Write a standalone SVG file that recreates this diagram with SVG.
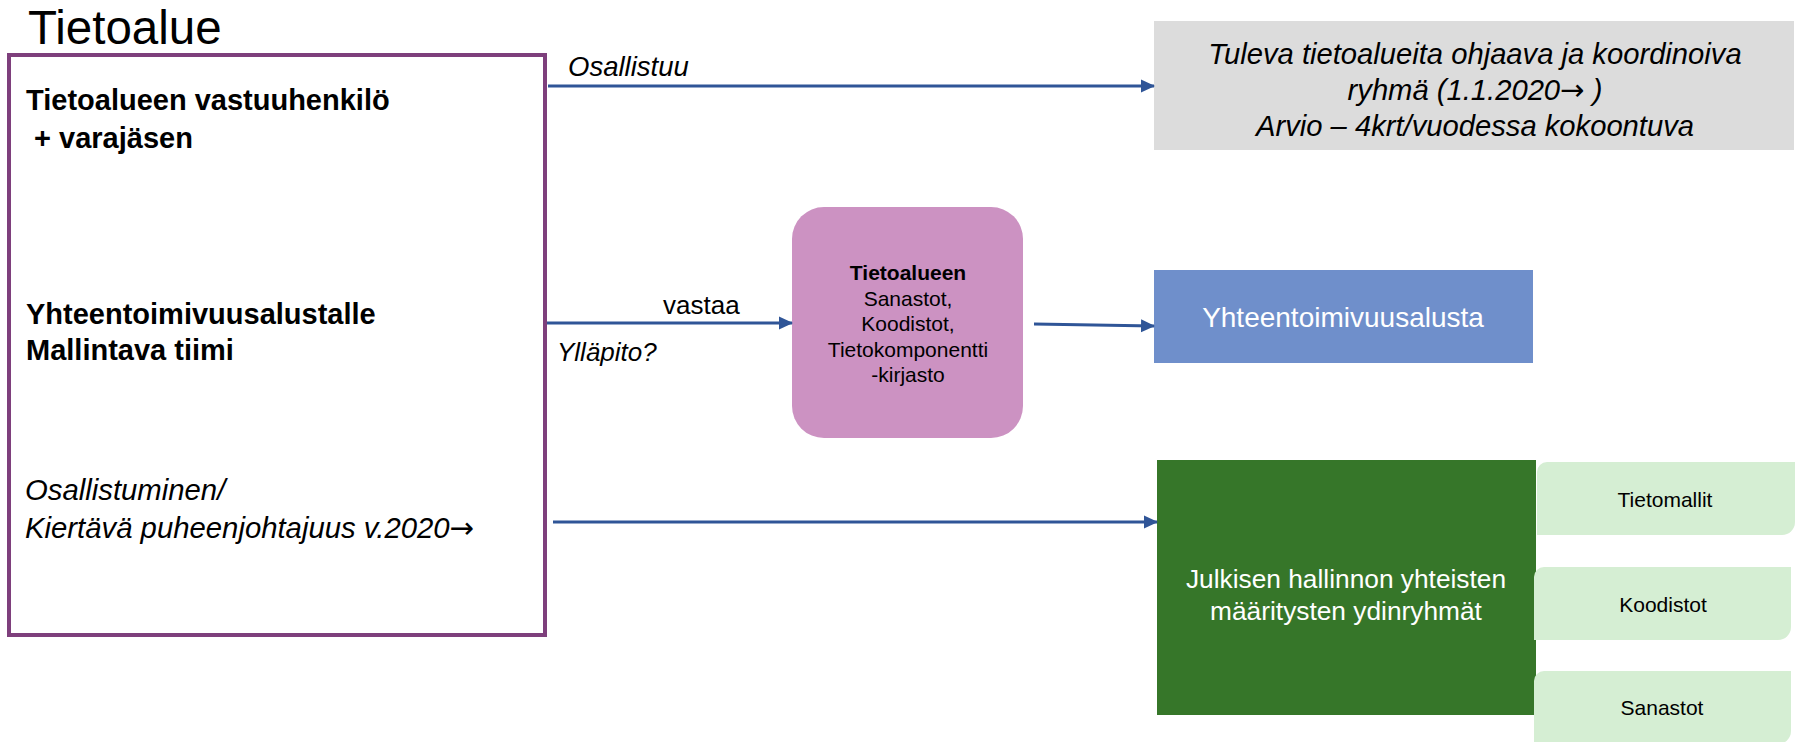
<svg xmlns="http://www.w3.org/2000/svg" width="1800" height="742" viewBox="0 0 1800 742">
<defs>
<style>
text{font-family:"Liberation Sans",Arial,sans-serif;fill:#000}
.b{font-weight:bold;font-size:29px}
.i{font-style:italic;font-size:27.5px}
.k{font-style:italic;font-size:29.3px}
.g{font-style:italic;font-size:29.2px}
.n{font-size:26px}
.c{text-anchor:middle}
.w{fill:#fff}
.s{font-size:21px}
.ar{font-family:"DejaVu Sans",sans-serif;font-style:normal}
.conn{stroke:#2F5597;stroke-width:2.8;fill:none}
.lg{fill:#D5EED3}
</style>
<marker id="ah" markerWidth="14" markerHeight="14" refX="13" refY="7" orient="auto" markerUnits="userSpaceOnUse" viewBox="0 0 14 14">
<path d="M0,0.5 L14,7 L0,13.5 z" fill="#2F5597"/>
</marker>
</defs>
<rect width="1800" height="742" fill="#fff"/>
<g id="title"><text x="28" y="44" style="font-size:47.5px">Tietoalue</text></g>
<g id="tietoalue">
<rect x="9" y="55" width="536" height="580" fill="#fff" stroke="#7E3F7C" stroke-width="4"/>
<text class="b" x="26" y="110">Tietoalueen vastuuhenkilö</text>
<text class="b" x="26" y="148" xml:space="preserve"> + varajäsen</text>
<text class="b" x="26" y="324">Yhteentoimivuusalustalle</text>
<text class="b" x="26" y="360">Mallintava tiimi</text>
<text class="k" x="25" y="500">Osallistuminen/</text>
<text class="k" x="25" y="538">Kiertävä puheenjohtajuus v.2020<tspan class="ar">→</tspan></text>
</g>
<g id="ryhma">
<rect x="1154" y="21" width="640" height="129" fill="#DCDCDC"/>
<text class="g c" x="1475" y="64">Tuleva tietoalueita ohjaava ja koordinoiva</text>
<text class="g c" x="1475" y="100">ryhmä (1.1.2020<tspan class="ar">→</tspan> )</text>
<text class="g c" x="1475" y="136">Arvio – 4krt/vuodessa kokoontuva</text>
</g>
<g id="kirjasto">
<rect x="792" y="207" width="231" height="231" rx="32" fill="#CC92C2"/>
<text class="c s" x="908" y="280" style="font-weight:bold">Tietoalueen</text>
<text class="c s" x="908" y="306">Sanastot,</text>
<text class="c s" x="908" y="331">Koodistot,</text>
<text class="c s" x="908" y="357">Tietokomponentti</text>
<text class="c s" x="908" y="382">-kirjasto</text>
</g>
<g id="alusta">
<rect x="1154" y="270" width="379" height="93" fill="#6F8FCB"/>
<text class="c w" x="1343" y="327" style="font-size:28px">Yhteentoimivuusalusta</text>
</g>
<g id="ydinryhmat">
<rect x="1157" y="460" width="379" height="255" fill="#367629"/>
<text class="c w" x="1346" y="588" style="font-size:26.3px">Julkisen hallinnon yhteisten</text>
<text class="c w" x="1346" y="620" style="font-size:26.3px">määritysten ydinryhmät</text>
</g>
<g id="tietomallit">
<path class="lg" d="M1547,462 H1795 V522 A13,13 0 0 1 1782,535 H1537 V472 A10,10 0 0 1 1547,462 z"/>
<text class="c s" x="1665" y="507">Tietomallit</text>
</g>
<g id="koodistot">
<path class="lg" d="M1544,567 H1791 V627 A13,13 0 0 1 1778,640 H1534 V577 A10,10 0 0 1 1544,567 z"/>
<text class="c s" x="1663" y="612">Koodistot</text>
</g>
<g id="sanastot">
<path class="lg" d="M1544,671 H1791 V731 A13,13 0 0 1 1778,744 H1534 V681 A10,10 0 0 1 1544,671 z"/>
<text class="c s" x="1662" y="715">Sanastot</text>
</g>
<g id="connectors">
<path class="conn" d="M548,86 H1154" marker-end="url(#ah)"/>
<path class="conn" d="M547,323 H792" marker-end="url(#ah)"/>
<path class="conn" d="M1034,324 L1154,326" marker-end="url(#ah)"/>
<path class="conn" d="M553,522 H1157" marker-end="url(#ah)"/>
<text class="i" x="568" y="76">Osallistuu</text>
<text class="n" x="663" y="314">vastaa</text>
<text class="i" x="557" y="361" style="font-size:26px">Ylläpito?</text>
</g>
</svg>
